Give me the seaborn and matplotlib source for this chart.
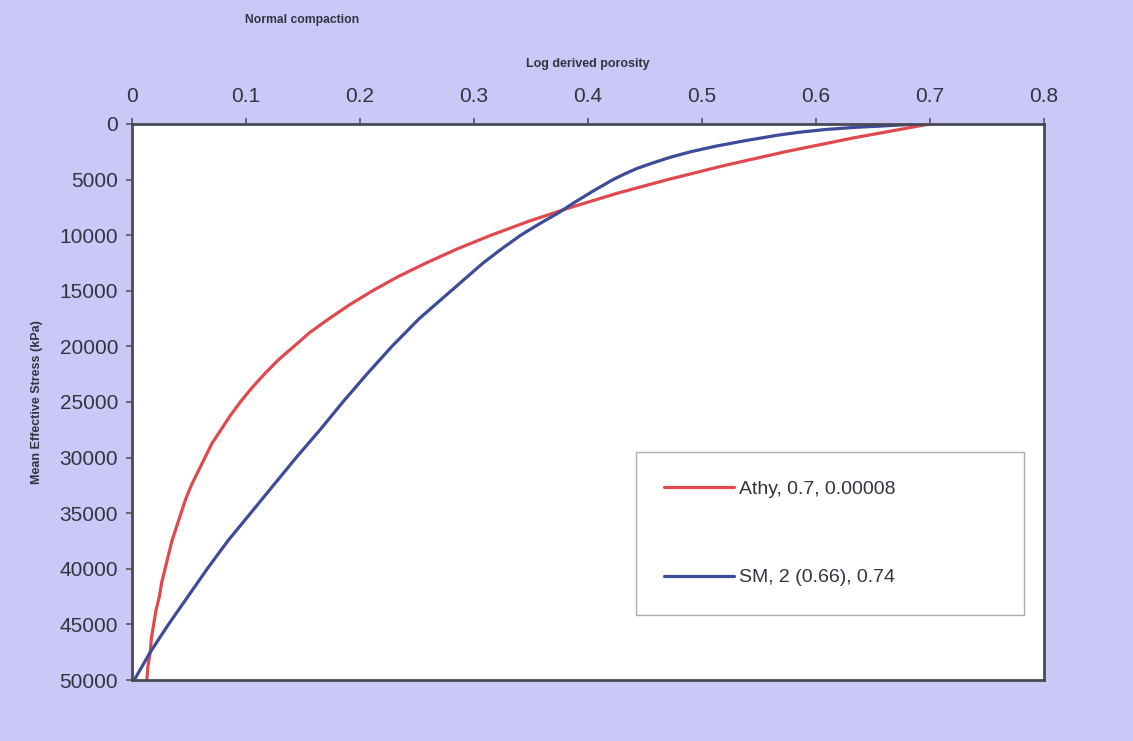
import matplotlib
matplotlib.use("Agg")
import matplotlib.pyplot as plt
import seaborn as sns
import pandas as pd

# ---- data ----
athy_label = "Athy, 0.7, 0.00008"
sm_label = "SM, 2 (0.66), 0.74"

athy_stress = [0, 1250, 2500, 3750, 5000, 6250, 7500, 8750, 10000, 11250, 12500, 13750,
               15000, 16250, 17500, 18750, 20000, 21250, 22500, 23750, 25000, 26250,
               27500, 28750, 30000, 31250, 32500, 33750, 35000, 36250, 37500, 38750,
               40000, 41250, 42500, 43750, 45000, 46250, 47500, 48750, 50000]
athy_porosity = [0.700, 0.633, 0.573, 0.519, 0.470, 0.425, 0.385, 0.348, 0.315, 0.285,
                 0.258, 0.233, 0.211, 0.191, 0.173, 0.156, 0.142, 0.128, 0.116, 0.105,
                 0.095, 0.086, 0.078, 0.070, 0.064, 0.058, 0.052, 0.047, 0.043, 0.039,
                 0.035, 0.032, 0.029, 0.026, 0.024, 0.021, 0.019, 0.017, 0.016, 0.014, 0.013]

sm_stress = [0, 100, 200, 300, 500, 750, 1000, 1500, 2000, 2500, 3000, 3500, 4000, 4500,
             5000, 6000, 7000, 8000, 9000, 10000, 11250, 12500, 13750, 15000, 16250,
             17500, 18750, 20000, 22500, 25000, 27500, 30000, 32500, 35000, 37500,
             40000, 42500, 45000, 47500, 50000]
sm_porosity = [0.690, 0.672, 0.655, 0.635, 0.608, 0.585, 0.567, 0.538, 0.512, 0.490,
               0.472, 0.457, 0.443, 0.432, 0.422, 0.405, 0.389, 0.374, 0.357, 0.341,
               0.324, 0.308, 0.294, 0.280, 0.266, 0.252, 0.240, 0.228, 0.206, 0.185,
               0.165, 0.144, 0.124, 0.104, 0.084, 0.066, 0.049, 0.032, 0.016, 0.002]

x_ticks = [0, 0.1, 0.2, 0.3, 0.4, 0.5, 0.6, 0.7, 0.8]
x_tick_labels = ["0", "0.1", "0.2", "0.3", "0.4", "0.5", "0.6", "0.7", "0.8"]
y_ticks = [0, 5000, 10000, 15000, 20000, 25000, 30000, 35000, 40000, 45000, 50000]

df = pd.concat([
    pd.DataFrame({"porosity": athy_porosity, "stress": athy_stress, "series": athy_label}),
    pd.DataFrame({"porosity": sm_porosity, "stress": sm_stress, "series": sm_label}),
], ignore_index=True)

# ---- style ----
bg = "#c9c8f7"
txt = "#333340"
sns.set_theme(style="white")
plt.rcParams["font.family"] = ["Liberation Sans", "DejaVu Sans"]

fig = plt.figure(figsize=(11.33, 7.41), dpi=100, facecolor=bg)
ax = fig.add_axes([0.1165, 0.0823, 0.8049, 0.7504])
ax.set_facecolor("white")

sns.lineplot(data=df, x="porosity", y="stress", hue="series", sort=False, estimator=None,
             palette={athy_label: "#e04a4e", sm_label: "#3e4b98"}, linewidth=2.3, ax=ax)

ax.set_xlim(0, 0.8)
ax.set_ylim(50000, 0)
ax.xaxis.tick_top()
ax.xaxis.set_label_position("top")
ax.set_xticks(x_ticks)
ax.set_xticklabels(x_tick_labels)
ax.set_yticks(y_ticks)
ax.set_yticklabels([str(v) for v in y_ticks])
ax.tick_params(axis="x", which="major", top=True, bottom=False, direction="out",
               length=4, width=1.2, color="#555555", labelsize=15, labelcolor=txt, pad=9)
ax.tick_params(axis="y", which="major", left=True, direction="out",
               length=4, width=1.2, color="#555555", labelsize=15, labelcolor=txt, pad=6)

for s in ax.spines.values():
    s.set_visible(True)
    s.set_color("#4a4a55")
    s.set_linewidth(2)

ax.set_xlabel("Log derived porosity", fontsize=9, fontweight="bold", color=txt, labelpad=14)
ax.set_ylabel("Mean Effective Stress (kPa)", fontsize=9, fontweight="bold", color=txt, labelpad=12)

fig.text(245 / 1133, 1 - 20 / 741, "Normal compaction", fontsize=8.7, fontweight="bold",
         color=txt, ha="left", va="center")

leg_x0 = (636 - 132) / 912
leg_top = 1 - (452 - 124) / 556
leg_w = 388 / 912
leg = ax.legend(loc="upper left", bbox_to_anchor=(leg_x0, leg_top - 0.3, leg_w, 0.3),
                mode="expand", borderaxespad=0, frameon=True, fancybox=False,
                fontsize=14, labelspacing=3.65, borderpad=1.45, handlelength=3.6,
                handletextpad=0.25, title=None)
leg.get_frame().set_edgecolor("#999999")
leg.get_frame().set_linewidth(1.0)
for t in leg.get_texts():
    t.set_color(txt)

fig.savefig("out.png", dpi=100, facecolor=bg)
